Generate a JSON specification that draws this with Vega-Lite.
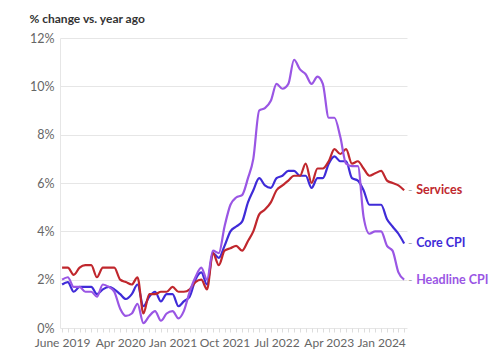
{
  "$schema": "https://vega.github.io/schema/vega-lite/v6.json",
  "width": 347,
  "height": 290,
  "autosize": {"type": "none"},
  "padding": {"left": 60, "top": 38, "right": 93, "bottom": 29},
  "background": "white",
  "config": {"font": "Lato", "view": {"stroke": null}},
  "title": {"text": "% change vs. year ago", "anchor": "start", "frame": "bounds", "fontSize": 12, "fontWeight": "bold", "color": "#333333", "offset": 6},
  "data": {"values": [
    {"date":"2019-06-01","series":"Core CPI","value":1.8},{"date":"2019-07-01","series":"Core CPI","value":1.9},{"date":"2019-08-01","series":"Core CPI","value":1.5},{"date":"2019-09-01","series":"Core CPI","value":1.7},{"date":"2019-10-01","series":"Core CPI","value":1.7},{"date":"2019-11-01","series":"Core CPI","value":1.7},{"date":"2019-12-01","series":"Core CPI","value":1.4},
    {"date":"2020-01-01","series":"Core CPI","value":1.6},{"date":"2020-02-01","series":"Core CPI","value":1.7},{"date":"2020-03-01","series":"Core CPI","value":1.6},{"date":"2020-04-01","series":"Core CPI","value":1.4},{"date":"2020-05-01","series":"Core CPI","value":1.2},{"date":"2020-06-01","series":"Core CPI","value":1.4},{"date":"2020-07-01","series":"Core CPI","value":1.8},{"date":"2020-08-01","series":"Core CPI","value":0.9},{"date":"2020-09-01","series":"Core CPI","value":1.3},{"date":"2020-10-01","series":"Core CPI","value":1.5},{"date":"2020-11-01","series":"Core CPI","value":1.1},{"date":"2020-12-01","series":"Core CPI","value":1.4},
    {"date":"2021-01-01","series":"Core CPI","value":1.4},{"date":"2021-02-01","series":"Core CPI","value":0.9},{"date":"2021-03-01","series":"Core CPI","value":1.1},{"date":"2021-04-01","series":"Core CPI","value":1.3},{"date":"2021-05-01","series":"Core CPI","value":2.0},{"date":"2021-06-01","series":"Core CPI","value":2.3},{"date":"2021-07-01","series":"Core CPI","value":1.8},{"date":"2021-08-01","series":"Core CPI","value":3.1},{"date":"2021-09-01","series":"Core CPI","value":2.9},{"date":"2021-10-01","series":"Core CPI","value":3.4},{"date":"2021-11-01","series":"Core CPI","value":4.0},{"date":"2021-12-01","series":"Core CPI","value":4.2},
    {"date":"2022-01-01","series":"Core CPI","value":4.4},{"date":"2022-02-01","series":"Core CPI","value":5.2},{"date":"2022-03-01","series":"Core CPI","value":5.7},{"date":"2022-04-01","series":"Core CPI","value":6.2},{"date":"2022-05-01","series":"Core CPI","value":5.9},{"date":"2022-06-01","series":"Core CPI","value":5.8},{"date":"2022-07-01","series":"Core CPI","value":6.2},{"date":"2022-08-01","series":"Core CPI","value":6.3},{"date":"2022-09-01","series":"Core CPI","value":6.5},{"date":"2022-10-01","series":"Core CPI","value":6.5},{"date":"2022-11-01","series":"Core CPI","value":6.3},{"date":"2022-12-01","series":"Core CPI","value":6.3},
    {"date":"2023-01-01","series":"Core CPI","value":5.8},{"date":"2023-02-01","series":"Core CPI","value":6.2},{"date":"2023-03-01","series":"Core CPI","value":6.2},{"date":"2023-04-01","series":"Core CPI","value":6.8},{"date":"2023-05-01","series":"Core CPI","value":7.1},{"date":"2023-06-01","series":"Core CPI","value":6.9},{"date":"2023-07-01","series":"Core CPI","value":6.9},{"date":"2023-08-01","series":"Core CPI","value":6.2},{"date":"2023-09-01","series":"Core CPI","value":6.1},{"date":"2023-10-01","series":"Core CPI","value":5.7},{"date":"2023-11-01","series":"Core CPI","value":5.1},{"date":"2023-12-01","series":"Core CPI","value":5.1},
    {"date":"2024-01-01","series":"Core CPI","value":5.1},{"date":"2024-02-01","series":"Core CPI","value":4.5},{"date":"2024-03-01","series":"Core CPI","value":4.2},{"date":"2024-04-01","series":"Core CPI","value":3.9},{"date":"2024-05-01","series":"Core CPI","value":3.5},

    {"date":"2019-06-01","series":"Services","value":2.5},{"date":"2019-07-01","series":"Services","value":2.5},{"date":"2019-08-01","series":"Services","value":2.2},{"date":"2019-09-01","series":"Services","value":2.5},{"date":"2019-10-01","series":"Services","value":2.6},{"date":"2019-11-01","series":"Services","value":2.6},{"date":"2019-12-01","series":"Services","value":2.1},
    {"date":"2020-01-01","series":"Services","value":2.5},{"date":"2020-02-01","series":"Services","value":2.5},{"date":"2020-03-01","series":"Services","value":2.5},{"date":"2020-04-01","series":"Services","value":2.0},{"date":"2020-05-01","series":"Services","value":1.9},{"date":"2020-06-01","series":"Services","value":1.8},{"date":"2020-07-01","series":"Services","value":2.1},{"date":"2020-08-01","series":"Services","value":0.6},{"date":"2020-09-01","series":"Services","value":1.4},{"date":"2020-10-01","series":"Services","value":1.4},{"date":"2020-11-01","series":"Services","value":1.5},{"date":"2020-12-01","series":"Services","value":1.5},
    {"date":"2021-01-01","series":"Services","value":1.7},{"date":"2021-02-01","series":"Services","value":1.5},{"date":"2021-03-01","series":"Services","value":1.5},{"date":"2021-04-01","series":"Services","value":1.6},{"date":"2021-05-01","series":"Services","value":1.9},{"date":"2021-06-01","series":"Services","value":2.0},{"date":"2021-07-01","series":"Services","value":1.6},{"date":"2021-08-01","series":"Services","value":3.1},{"date":"2021-09-01","series":"Services","value":2.6},{"date":"2021-10-01","series":"Services","value":3.2},{"date":"2021-11-01","series":"Services","value":3.3},{"date":"2021-12-01","series":"Services","value":3.4},
    {"date":"2022-01-01","series":"Services","value":3.2},{"date":"2022-02-01","series":"Services","value":3.6},{"date":"2022-03-01","series":"Services","value":4.0},{"date":"2022-04-01","series":"Services","value":4.7},{"date":"2022-05-01","series":"Services","value":4.9},{"date":"2022-06-01","series":"Services","value":5.2},{"date":"2022-07-01","series":"Services","value":5.7},{"date":"2022-08-01","series":"Services","value":5.9},{"date":"2022-09-01","series":"Services","value":6.1},{"date":"2022-10-01","series":"Services","value":6.3},{"date":"2022-11-01","series":"Services","value":6.3},{"date":"2022-12-01","series":"Services","value":6.8},
    {"date":"2023-01-01","series":"Services","value":6.0},{"date":"2023-02-01","series":"Services","value":6.6},{"date":"2023-03-01","series":"Services","value":6.6},{"date":"2023-04-01","series":"Services","value":6.9},{"date":"2023-05-01","series":"Services","value":7.4},{"date":"2023-06-01","series":"Services","value":7.2},{"date":"2023-07-01","series":"Services","value":7.4},{"date":"2023-08-01","series":"Services","value":6.8},{"date":"2023-09-01","series":"Services","value":6.9},{"date":"2023-10-01","series":"Services","value":6.6},{"date":"2023-11-01","series":"Services","value":6.3},{"date":"2023-12-01","series":"Services","value":6.4},
    {"date":"2024-01-01","series":"Services","value":6.5},{"date":"2024-02-01","series":"Services","value":6.1},{"date":"2024-03-01","series":"Services","value":6.0},{"date":"2024-04-01","series":"Services","value":5.9},{"date":"2024-05-01","series":"Services","value":5.7},

    {"date":"2019-06-01","series":"Headline CPI","value":2.0},{"date":"2019-07-01","series":"Headline CPI","value":2.1},{"date":"2019-08-01","series":"Headline CPI","value":1.7},{"date":"2019-09-01","series":"Headline CPI","value":1.7},{"date":"2019-10-01","series":"Headline CPI","value":1.5},{"date":"2019-11-01","series":"Headline CPI","value":1.5},{"date":"2019-12-01","series":"Headline CPI","value":1.3},
    {"date":"2020-01-01","series":"Headline CPI","value":1.8},{"date":"2020-02-01","series":"Headline CPI","value":1.7},{"date":"2020-03-01","series":"Headline CPI","value":1.5},{"date":"2020-04-01","series":"Headline CPI","value":0.8},{"date":"2020-05-01","series":"Headline CPI","value":0.5},{"date":"2020-06-01","series":"Headline CPI","value":0.6},{"date":"2020-07-01","series":"Headline CPI","value":1.0},{"date":"2020-08-01","series":"Headline CPI","value":0.2},{"date":"2020-09-01","series":"Headline CPI","value":0.5},{"date":"2020-10-01","series":"Headline CPI","value":0.7},{"date":"2020-11-01","series":"Headline CPI","value":0.3},{"date":"2020-12-01","series":"Headline CPI","value":0.6},
    {"date":"2021-01-01","series":"Headline CPI","value":0.7},{"date":"2021-02-01","series":"Headline CPI","value":0.4},{"date":"2021-03-01","series":"Headline CPI","value":0.7},{"date":"2021-04-01","series":"Headline CPI","value":1.5},{"date":"2021-05-01","series":"Headline CPI","value":2.1},{"date":"2021-06-01","series":"Headline CPI","value":2.5},{"date":"2021-07-01","series":"Headline CPI","value":2.0},{"date":"2021-08-01","series":"Headline CPI","value":3.2},{"date":"2021-09-01","series":"Headline CPI","value":3.1},{"date":"2021-10-01","series":"Headline CPI","value":4.2},{"date":"2021-11-01","series":"Headline CPI","value":5.1},{"date":"2021-12-01","series":"Headline CPI","value":5.4},
    {"date":"2022-01-01","series":"Headline CPI","value":5.5},{"date":"2022-02-01","series":"Headline CPI","value":6.2},{"date":"2022-03-01","series":"Headline CPI","value":7.0},{"date":"2022-04-01","series":"Headline CPI","value":9.0},{"date":"2022-05-01","series":"Headline CPI","value":9.1},{"date":"2022-06-01","series":"Headline CPI","value":9.4},{"date":"2022-07-01","series":"Headline CPI","value":10.1},{"date":"2022-08-01","series":"Headline CPI","value":9.9},{"date":"2022-09-01","series":"Headline CPI","value":10.1},{"date":"2022-10-01","series":"Headline CPI","value":11.1},{"date":"2022-11-01","series":"Headline CPI","value":10.7},{"date":"2022-12-01","series":"Headline CPI","value":10.5},
    {"date":"2023-01-01","series":"Headline CPI","value":10.1},{"date":"2023-02-01","series":"Headline CPI","value":10.4},{"date":"2023-03-01","series":"Headline CPI","value":10.1},{"date":"2023-04-01","series":"Headline CPI","value":8.7},{"date":"2023-05-01","series":"Headline CPI","value":8.7},{"date":"2023-06-01","series":"Headline CPI","value":7.9},{"date":"2023-07-01","series":"Headline CPI","value":6.8},{"date":"2023-08-01","series":"Headline CPI","value":6.7},{"date":"2023-09-01","series":"Headline CPI","value":6.7},{"date":"2023-10-01","series":"Headline CPI","value":4.6},{"date":"2023-11-01","series":"Headline CPI","value":3.9},{"date":"2023-12-01","series":"Headline CPI","value":4.0},
    {"date":"2024-01-01","series":"Headline CPI","value":4.0},{"date":"2024-02-01","series":"Headline CPI","value":3.4},{"date":"2024-03-01","series":"Headline CPI","value":3.2},{"date":"2024-04-01","series":"Headline CPI","value":2.3},{"date":"2024-05-01","series":"Headline CPI","value":2.0}
  ]},
  "encoding": {
    "x": {
      "field": "date", "type": "temporal",
      "scale": {"type": "utc", "domain": [{"year": 2019, "month": 5, "date": 21, "utc": true}, {"year": 2024, "month": 5, "date": 16, "utc": true}]},
      "axis": {
        "title": null, "grid": false, "domain": false,
        "tickCount": {"interval": "month", "step": 1},
        "tickSize": 4, "tickColor": "#dddddd",
        "labelExpr": "indexof(['2019-06','2020-04','2021-01','2021-10','2022-07','2023-04','2024-01'], utcFormat(datum.value,'%Y-%m')) >= 0 ? (utcFormat(datum.value,'%Y-%m') == '2019-06' ? 'June 2019' : utcFormat(datum.value,'%b %Y')) : ''",
        "labelColor": "#666666", "labelFontSize": 12, "labelPadding": 5,
        "labelOverlap": false, "labelFlush": false, "labelBound": false
      }
    },
    "y": {
      "field": "value", "type": "quantitative",
      "scale": {"domain": [0, 12], "nice": false},
      "axis": {
        "title": null, "values": [0, 2, 4, 6, 8, 10, 12],
        "labelExpr": "datum.value + '%'",
        "grid": true, "gridColor": "#e6e6e6",
        "domain": true, "domainColor": "#e6e6e6",
        "ticks": false, "labelPadding": 6,
        "labelColor": "#666666", "labelFontSize": 12.5
      }
    }
  },
  "layer": [
    {
      "mark": {"type": "line", "interpolate": "monotone", "strokeWidth": 2.2},
      "encoding": {
        "color": {"field": "series", "type": "nominal", "legend": null,
          "scale": {"domain": ["Services", "Core CPI", "Headline CPI"], "range": ["#c0272d", "#3f2bd8", "#9a56e4"]}}
      }
    },
    {
      "transform": [{"filter": "utcyear(datum.date) == 2024 && utcmonth(datum.date) == 4"}],
      "mark": {"type": "text", "text": "-", "color": "#aaaaaa", "dx": 6, "align": "center", "baseline": "middle", "fontSize": 12}
    },
    {
      "transform": [{"filter": "utcyear(datum.date) == 2024 && utcmonth(datum.date) == 4"}],
      "mark": {"type": "text", "dx": 12, "align": "left", "baseline": "middle", "fontSize": 12.5, "fontWeight": "bold"},
      "encoding": {
        "text": {"field": "series"},
        "color": {"field": "series", "type": "nominal", "legend": null}
      }
    }
  ]
}
